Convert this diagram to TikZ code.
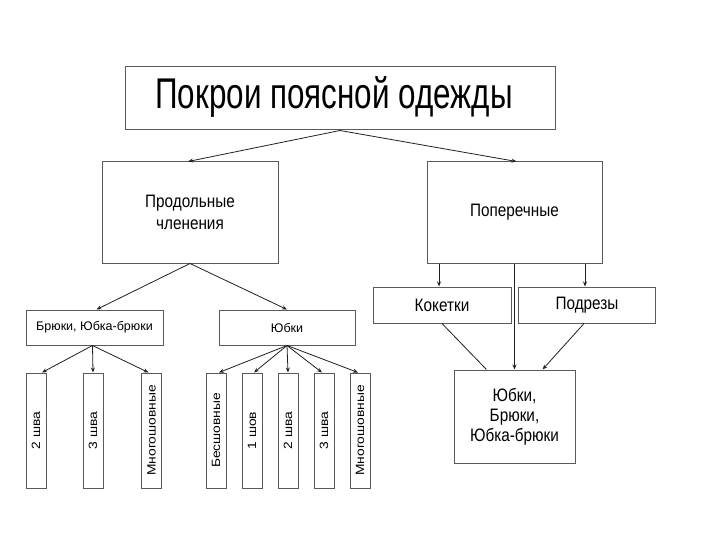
\documentclass[tikz,border=0pt]{standalone}
\usepackage{fontspec}
\setmainfont{Liberation Sans}
\newfontfamily\fT[FakeStretch=0.73]{Liberation Sans}
\newfontfamily\fM[FakeStretch=0.85]{Liberation Sans}
\newfontfamily\fS{Liberation Sans}
\newfontfamily\fV[FakeStretch=1.15]{Liberation Sans}
\usetikzlibrary{arrows.meta,calc}
\definecolor{boxline}{HTML}{5A5A5A}
\definecolor{conn}{HTML}{202020}
\tikzset{
  box/.style={draw=boxline,line width=1pt,fill=white,inner sep=0pt,align=center,text=black},
  vbox/.style={box,minimum width=20pt,minimum height=115pt},
  vtext/.style={rotate=90,font=\fV\fontsize{12}{14}\selectfont},
  arr/.style={draw=conn,line width=0.8pt,-{Stealth[length=5pt,width=4pt]}},
  ln/.style={draw=conn,line width=0.8pt}
}
\begin{document}
\begin{tikzpicture}[x=1pt,y=-1pt]
\useasboundingbox (0,0) rectangle (720,540);
% title
\node[box,minimum width=430pt,minimum height=63pt] (t) at (340,98.5) {};
\node[font=\fT\fontsize{43}{48}\selectfont] (tt) at (334,97) {Покрои поясной одежды};
% level 1
\node[box,minimum width=176pt,minimum height=101pt,font=\fM\fontsize{18}{22}\selectfont] (p) at (190,212.5) {Продольные\\членения};
\node[box,minimum width=175pt,minimum height=101pt,font=\fM\fontsize{18}{22}\selectfont] (pp) at (514.5,212.5) {Поперечные};
% level 2 left
\node[box,minimum width=137pt,minimum height=35pt,font=\fS\fontsize{12.5}{15}\selectfont] (br) at (94.5,327.5) {Брюки, Юбка-брюки};
\node[box,minimum width=136pt,minimum height=35pt,font=\fS\fontsize{12.5}{15}\selectfont] (yu) at (287,327.5) {Юбки};
% level 2 right
\node[box,minimum width=138pt,minimum height=36pt,font=\fM\fontsize{18}{22}\selectfont] (kok) at (442,305) {Кокетки};
\node[box,minimum width=137pt,minimum height=36pt,font=\fM\fontsize{18}{22}\selectfont] (pod) at (587,305) {Подрезы};
\node[box,minimum width=121pt,minimum height=93pt,font=\fM\fontsize{18}{20}\selectfont] (res) at (514.5,416.5) {Юбки,\\Брюки,\\Юбка-брюки};
% small vertical boxes
\node[vbox] (a1) at (36,430.5) {};
\node[vbox] (a2) at (93,430.5) {};
\node[vbox] (a3) at (151.5,430.5) {};
\node[vbox] (b1) at (216,430.5) {};
\node[vbox] (b2) at (252,430.5) {};
\node[vbox] (b3) at (288,430.5) {};
\node[vbox] (b4) at (324,430.5) {};
\node[vbox] (b5) at (360,430.5) {};
\node[vtext] at (a1) {2 шва};
\node[vtext] at (a2) {3 шва};
\node[vtext] at (a3) {Многошовные};
\node[vtext] at (b1) {Бесшовные};
\node[vtext] at (b2) {1 шов};
\node[vtext] at (b3) {2 шва};
\node[vtext] at (b4) {3 шва};
\node[vtext] at (b5) {Многошовные};
% connectors
\draw[arr] (t.south) -- ($(p.north)+(-2,0)$);
\draw[arr] (t.south) -- ($(pp.north)+(2,0)$);
\draw[arr] (p.south) -- ($(br.north)+(2,0)$);
\draw[arr] (p.south) -- (yu.north);
\draw[arr] ($(br.south)+(-2,0)$) -- ($(a1.north)+(6,0)$);
\draw[arr] ($(br.south)+(-2,0)$) -- (a2.north);
\draw[arr] ($(br.south)+(-2,0)$) -- ($(a3.north)+(-3,0)$);
\draw[arr] (yu.south) -- ($(b1.north)+(3,0)$);
\draw[arr] (yu.south) -- ($(b2.north)+(2,0)$);
\draw[arr] (yu.south) -- (b3.north);
\draw[arr] (yu.south) -- ($(b4.north)+(-2,0)$);
\draw[arr] (yu.south) -- ($(b5.north)+(-2,0)$);
\draw[arr] ($(kok.north |- pp.south)+(-3,0)$) -- ($(kok.north)+(-3,0)$);
\draw[arr] ($(pod.north |- pp.south)+(-2,0)$) -- ($(pod.north)+(-2,0)$);
\draw[arr] (pp.south) -- (res.north);
\draw[ln] (kok.south) -- ($(res.north west)!0.27!(res.north east)$);
\draw[arr] ($(pod.south)+(-3,0)$) -- ($(res.north west)!0.73!(res.north east)$);
\end{tikzpicture}
\end{document}
